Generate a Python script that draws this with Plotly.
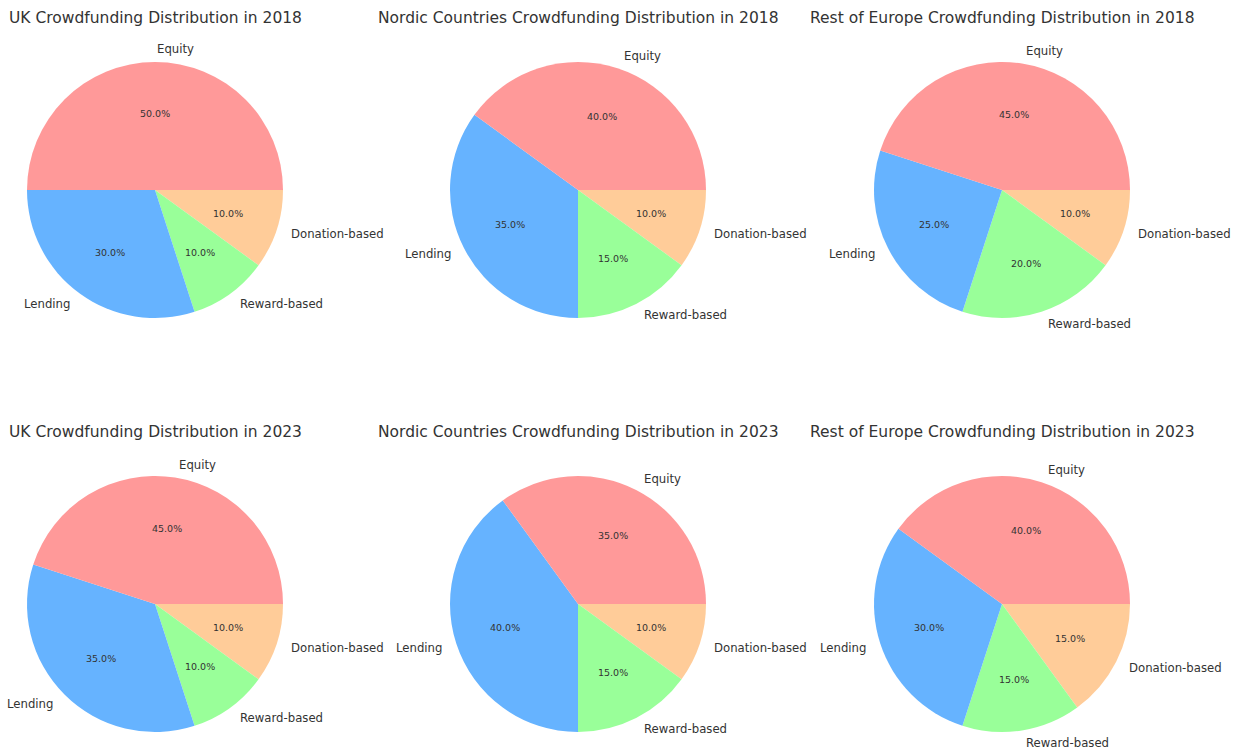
import math
import plotly.graph_objects as go

# Crowdfunding model shares (%) by region and year
categories = ["Equity", "Lending", "Reward-based", "Donation-based"]
colors = ["#ff9999", "#66b3ff", "#99ff99", "#ffcc99"]

uk_2018 = [50, 30, 10, 10]
nordic_2018 = [40, 35, 15, 10]
rest_2018 = [45, 25, 20, 10]
uk_2023 = [45, 35, 10, 10]
nordic_2023 = [35, 40, 15, 10]
rest_2023 = [40, 30, 15, 15]

panels = [
    ("UK Crowdfunding Distribution in 2018", uk_2018),
    ("Nordic Countries Crowdfunding Distribution in 2018", nordic_2018),
    ("Rest of Europe Crowdfunding Distribution in 2018", rest_2018),
    ("UK Crowdfunding Distribution in 2023", uk_2023),
    ("Nordic Countries Crowdfunding Distribution in 2023", nordic_2023),
    ("Rest of Europe Crowdfunding Distribution in 2023", rest_2023),
]

# Page geometry (pixels)
W, H = 1233, 751
R = 128
col_cx = [155, 578, 1002]
row_cy = [190, 604]
title_y = [18, 432]

FONT = "DejaVu Sans"
TEXT = "#333333"


def px(x):
    return x / W


def py(y):
    return 1 - y / H


fig = go.Figure()
annotations = []

for i, (title, values) in enumerate(panels):
    r, c = divmod(i, 3)
    cx, cy = col_cx[c], row_cy[r]
    # Slices run counterclockwise from 3 o'clock; drawn clockwise in
    # reverse order from the same start so the first category sits
    # just above the horizontal.
    fig.add_trace(go.Pie(
        labels=categories[::-1],
        values=values[::-1],
        sort=False,
        direction="clockwise",
        rotation=90,
        marker=dict(colors=colors[::-1], line=dict(width=0)),
        textinfo="none",
        hoverinfo="label+percent",
        showlegend=False,
        domain=dict(x=[px(cx - R), px(cx + R)], y=[py(cy + R), py(cy - R)]),
    ))

    annotations.append(dict(
        text=title, x=px(cx), y=py(title_y[r]), xref="paper", yref="paper",
        xanchor="center", yanchor="middle", showarrow=False,
        font=dict(family=FONT, size=15.5, color=TEXT),
    ))

    total = sum(values)
    start = 0.0
    for label, v in zip(categories, values):
        share = v / total
        mid = math.radians((start + share / 2) * 360)
        start += share
        cosm, sinm = math.cos(mid), math.sin(mid)
        # category label outside the slice
        lx = cx + 1.1 * R * cosm
        ly = cy - 1.1 * R * sinm
        annotations.append(dict(
            text=label, x=px(lx), y=py(ly), xref="paper", yref="paper",
            xanchor="left" if cosm > 0 else "right", yanchor="middle",
            showarrow=False, font=dict(family=FONT, size=11.7, color=TEXT),
        ))
        # percentage inside the slice
        tx = cx + 0.6 * R * cosm
        ty = cy - 0.6 * R * sinm
        annotations.append(dict(
            text=f"{share * 100:.1f}%", x=px(tx), y=py(ty),
            xref="paper", yref="paper", xanchor="center", yanchor="middle",
            showarrow=False, font=dict(family=FONT, size=9.5, color=TEXT),
        ))

fig.update_layout(
    width=W, height=H,
    margin=dict(l=0, r=0, t=0, b=0),
    paper_bgcolor="white", plot_bgcolor="white",
    annotations=annotations,
)

fig.write_html("out.html")
